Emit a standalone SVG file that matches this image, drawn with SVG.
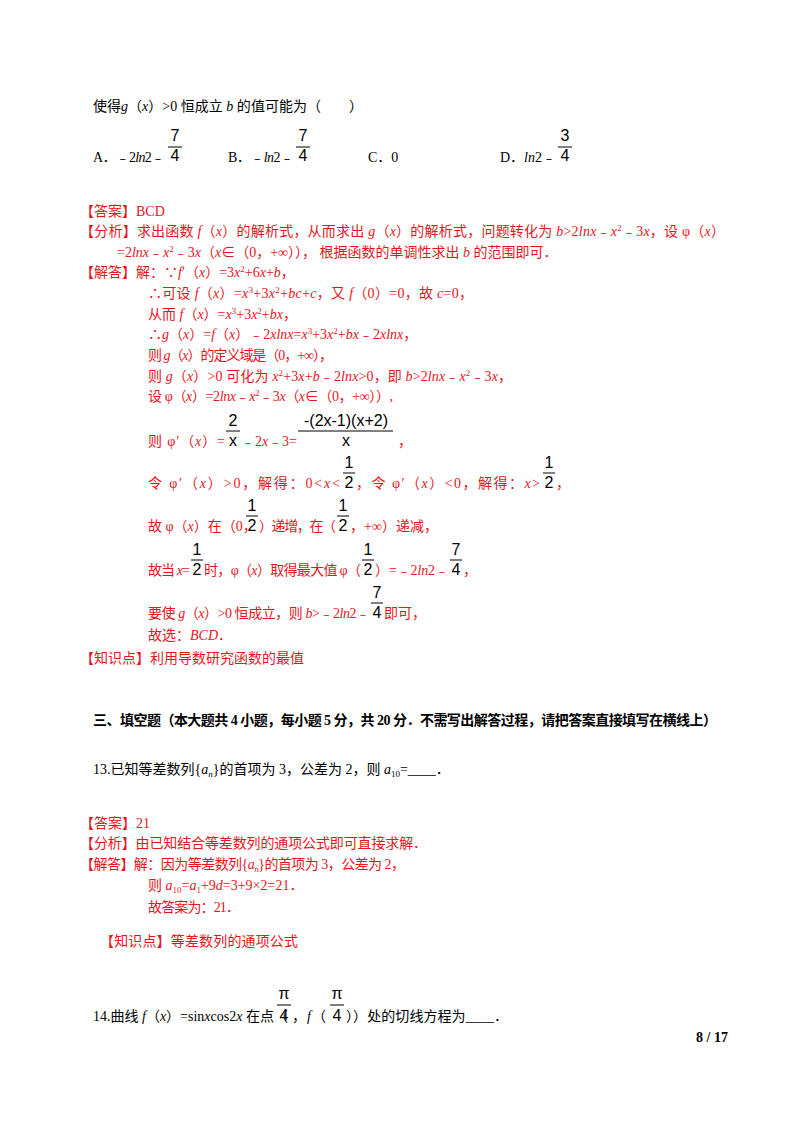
<svg xmlns="http://www.w3.org/2000/svg" width="800" height="1132" viewBox="0 0 800 1132">
<style>
text{font-family:"Liberation Serif","Noto Sans CJK SC",serif;font-size:14px;fill:#000}
.r{fill:#e8141c}
.i{font-style:italic}
.f{font-family:"Liberation Sans","DejaVu Sans",sans-serif;font-size:16px;fill:#000;text-anchor:middle}
.b{font-weight:bold}
line{stroke:#000;stroke-width:1}
</style>
<rect width="800" height="1132" fill="#fff"/>
<text x="93" y="111" textLength="270" lengthAdjust="spacing">使得<tspan class="i">g</tspan>（<tspan class="i">x</tspan>）&gt;0 恒成立 <tspan class="i">b</tspan> 的值可能为（　　）</text>
<text x="93" y="162" textLength="72" lengthAdjust="spacing">A．﹣2<tspan class="i">ln</tspan>2﹣</text>
<text class="f" x="175" y="141">7</text><line x1="168" y1="147" x2="182" y2="147"/><text class="f" x="175" y="161">4</text>
<text x="228" y="162" textLength="66" lengthAdjust="spacing">B．﹣<tspan class="i">ln</tspan>2﹣</text>
<text class="f" x="303" y="141">7</text><line x1="296" y1="147" x2="310" y2="147"/><text class="f" x="303" y="161">4</text>
<text x="368" y="162">C．0</text>
<text x="500" y="162" textLength="56" lengthAdjust="spacing">D．<tspan class="i">ln</tspan>2﹣</text>
<text class="f" x="565" y="141">3</text><line x1="558" y1="147" x2="572" y2="147"/><text class="f" x="565" y="161">4</text>

<text class="r" x="80" y="216">【答案】BCD</text>
<text class="r" x="80" y="236" textLength="645" lengthAdjust="spacing">【分析】求出函数 <tspan class="i">f</tspan>（<tspan class="i">x</tspan>）的解析式，从而求出 <tspan class="i">g</tspan>（<tspan class="i">x</tspan>）的解析式，问题转化为 <tspan class="i">b</tspan>&gt;2<tspan class="i">lnx</tspan>﹣<tspan class="i">x</tspan><tspan font-size="9" dy="-5">2</tspan><tspan dy="5">﹣3</tspan><tspan class="i">x</tspan>，设 φ（<tspan class="i">x</tspan>）</text>
<text class="r" x="117" y="257">=2<tspan class="i">lnx</tspan>﹣<tspan class="i">x</tspan><tspan font-size="9" dy="-5">2</tspan><tspan dy="5">﹣3</tspan><tspan class="i">x</tspan>（<tspan class="i">x</tspan>∈（0，+∞））， 根据函数的单调性求出 <tspan class="i">b</tspan> 的范围即可．</text>
<text class="r" x="80" y="277">【解答】解：∵<tspan class="i">f</tspan>′（<tspan class="i">x</tspan>）=3<tspan class="i">x</tspan><tspan font-size="9" dy="-5">2</tspan><tspan dy="5">+6</tspan><tspan class="i">x</tspan>+<tspan class="i">b</tspan>，</text>
<text class="r" x="148" y="298" textLength="325" lengthAdjust="spacing">∴可设 <tspan class="i">f</tspan>（<tspan class="i">x</tspan>）=<tspan class="i">x</tspan><tspan font-size="9" dy="-5">3</tspan><tspan dy="5">+3</tspan><tspan class="i">x</tspan><tspan font-size="9" dy="-5">2</tspan><tspan dy="5">+</tspan><tspan class="i">bc</tspan>+<tspan class="i">c</tspan>，又 <tspan class="i">f</tspan>（0）=0，故 <tspan class="i">c</tspan>=0，</text>
<text class="r" x="148" y="319">从而 <tspan class="i">f</tspan>（<tspan class="i">x</tspan>）=<tspan class="i">x</tspan><tspan font-size="9" dy="-5">3</tspan><tspan dy="5">+3</tspan><tspan class="i">x</tspan><tspan font-size="9" dy="-5">2</tspan><tspan dy="5">+</tspan><tspan class="i">bx</tspan>，</text>
<text class="r" x="148" y="339">∴<tspan class="i">g</tspan>（<tspan class="i">x</tspan>）=<tspan class="i">f</tspan>（<tspan class="i">x</tspan>）﹣2<tspan class="i">xlnx</tspan>=<tspan class="i">x</tspan><tspan font-size="9" dy="-5">3</tspan><tspan dy="5">+3</tspan><tspan class="i">x</tspan><tspan font-size="9" dy="-5">2</tspan><tspan dy="5">+</tspan><tspan class="i">bx</tspan>﹣2<tspan class="i">xlnx</tspan>，</text>
<text class="r" x="148" y="360" textLength="185" lengthAdjust="spacing">则 <tspan class="i">g</tspan>（<tspan class="i">x</tspan>）的定义域是（0，+∞），</text>
<text class="r" x="148" y="381" textLength="364" lengthAdjust="spacing">则 <tspan class="i">g</tspan>（<tspan class="i">x</tspan>）&gt;0 可化为 <tspan class="i">x</tspan><tspan font-size="9" dy="-5">2</tspan><tspan dy="5">+3</tspan><tspan class="i">x</tspan>+<tspan class="i">b</tspan>﹣2<tspan class="i">lnx</tspan>&gt;0，即 <tspan class="i">b</tspan>&gt;2<tspan class="i">lnx</tspan>﹣<tspan class="i">x</tspan><tspan font-size="9" dy="-5">2</tspan><tspan dy="5">﹣3</tspan><tspan class="i">x</tspan>，</text>
<text class="r" x="148" y="401" textLength="245" lengthAdjust="spacing">设 φ（<tspan class="i">x</tspan>）=2<tspan class="i">lnx</tspan>﹣<tspan class="i">x</tspan><tspan font-size="9" dy="-5">2</tspan><tspan dy="5">﹣3</tspan><tspan class="i">x</tspan>（<tspan class="i">x</tspan>∈（0，+∞））,</text>
<text class="r" x="148" y="446" textLength="77" lengthAdjust="spacing">则 φ′（<tspan class="i">x</tspan>）=</text>
<text class="f" x="233" y="426">2</text><line x1="226" y1="431" x2="240" y2="431"/><text class="f" x="233" y="446">x</text>
<text class="r" x="241" y="446" textLength="56" lengthAdjust="spacing">﹣2<tspan class="i">x</tspan>﹣3=</text>
<text class="f" x="346" y="426">-(2x-1)(x+2)</text><line x1="298" y1="431" x2="393" y2="431"/><text class="f" x="346" y="446">x</text>
<text class="r" x="398" y="446">，</text>
<text class="r" x="148" y="488" textLength="192" lengthAdjust="spacing">令 φ′（<tspan class="i">x</tspan>）&gt;0，解得：0&lt;<tspan class="i">x</tspan>&lt;</text>
<text class="f" x="349" y="468">1</text><line x1="343" y1="473" x2="355" y2="473"/><text class="f" x="349" y="488">2</text>
<text class="r" x="356" y="488" textLength="184" lengthAdjust="spacing">，令 φ′（<tspan class="i">x</tspan>）&lt;0，解得：<tspan class="i">x</tspan>&gt;</text>
<text class="f" x="549" y="468">1</text><line x1="543" y1="473" x2="555" y2="473"/><text class="f" x="549" y="488">2</text>
<text class="r" x="556" y="488">，</text>
<text class="r" x="148" y="531" font-size="13">故 φ（<tspan class="i">x</tspan>）在（0，</text>
<text class="f" x="252" y="511">1</text><line x1="246" y1="516" x2="258" y2="516"/><text class="f" x="252" y="531">2</text>
<text class="r" x="259" y="531" textLength="77" lengthAdjust="spacing">）递增，在（</text>
<text class="f" x="343" y="511">1</text><line x1="337" y1="516" x2="349" y2="516"/><text class="f" x="343" y="531">2</text>
<text class="r" x="350" y="531">，+∞）递减，</text>
<text class="r" x="148" y="575" textLength="42" lengthAdjust="spacing">故当 <tspan class="i">x</tspan>=</text>
<text class="f" x="197" y="555">1</text><line x1="191" y1="560" x2="203" y2="560"/><text class="f" x="197" y="575">2</text>
<text class="r" x="204" y="575" textLength="157" lengthAdjust="spacing">时，φ（<tspan class="i">x</tspan>）取得最大值 φ（</text>
<text class="f" x="368" y="555">1</text><line x1="362" y1="560" x2="374" y2="560"/><text class="f" x="368" y="575">2</text>
<text class="r" x="375" y="575" textLength="74" lengthAdjust="spacing">）=﹣2<tspan class="i">ln</tspan>2﹣</text>
<text class="f" x="456" y="555">7</text><line x1="450" y1="560" x2="462" y2="560"/><text class="f" x="456" y="575">4</text>
<text class="r" x="463" y="575">，</text>
<text class="r" x="148" y="618" textLength="222" lengthAdjust="spacing">要使 <tspan class="i">g</tspan>（<tspan class="i">x</tspan>）&gt;0 恒成立，则 <tspan class="i">b</tspan>&gt;﹣2<tspan class="i">ln</tspan>2﹣</text>
<text class="f" x="377" y="598">7</text><line x1="371" y1="603" x2="383" y2="603"/><text class="f" x="377" y="618">4</text>
<text class="r" x="384" y="618">即可，</text>
<text class="r" x="148" y="640">故选：<tspan class="i">BCD</tspan>．</text>
<text class="r" x="80" y="663">【知识点】利用导数研究函数的最值</text>

<text class="b" x="93" y="725" textLength="624" lengthAdjust="spacing">三、填空题（本大题共 4 小题，每小题 5 分，共 20 分．不需写出解答过程，请把答案直接填写在横线上）</text>
<text x="93" y="774">13.已知等差数列{<tspan class="i">a</tspan><tspan class="i" font-size="9" dy="3">n</tspan><tspan dy="-3">}的首项为 3，公差为 2，则 </tspan><tspan class="i">a</tspan><tspan font-size="9" dy="3">10</tspan><tspan dy="-3">=____．</tspan></text>
<text class="r" x="80" y="828">【答案】21</text>
<text class="r" x="80" y="848" textLength="347" lengthAdjust="spacing">【分析】由已知结合等差数列的通项公式即可直接求解．</text>
<text class="r" x="80" y="869" textLength="325" lengthAdjust="spacing">【解答】解：因为等差数列{<tspan class="i">a</tspan><tspan class="i" font-size="9" dy="3">n</tspan><tspan dy="-3">}的首项为 3，公差为 2，</tspan></text>
<text class="r" x="148" y="890">则 <tspan class="i">a</tspan><tspan font-size="9" dy="3">10</tspan><tspan dy="-3">=</tspan><tspan class="i">a</tspan><tspan font-size="9" dy="3">1</tspan><tspan dy="-3">+9</tspan><tspan class="i">d</tspan>=3+9×2=21．</text>
<text class="r" x="148" y="912" textLength="92" lengthAdjust="spacing">故答案为：21．</text>
<text class="r" x="100" y="946" textLength="198" lengthAdjust="spacing">【知识点】等差数列的通项公式</text>

<text x="93" y="1021" font-size="13">14.曲线 <tspan class="i">f</tspan>（<tspan class="i">x</tspan>）=sin<tspan class="i">x</tspan>cos2<tspan class="i">x</tspan> 在点（</text>
<text class="f" x="284" y="999">π</text><line x1="277" y1="1005" x2="291" y2="1005"/><text class="f" x="284" y="1021">4</text>
<text x="292" y="1021" textLength="34" lengthAdjust="spacing">，<tspan class="i">f</tspan>（</text>
<text class="f" x="337" y="999">π</text><line x1="330" y1="1005" x2="344" y2="1005"/><text class="f" x="337" y="1021">4</text>
<text x="346" y="1021" textLength="162" lengthAdjust="spacing">））处的切线方程为____．</text>
<text class="b" x="728" y="1042" text-anchor="end">8 / 17</text>
</svg>
